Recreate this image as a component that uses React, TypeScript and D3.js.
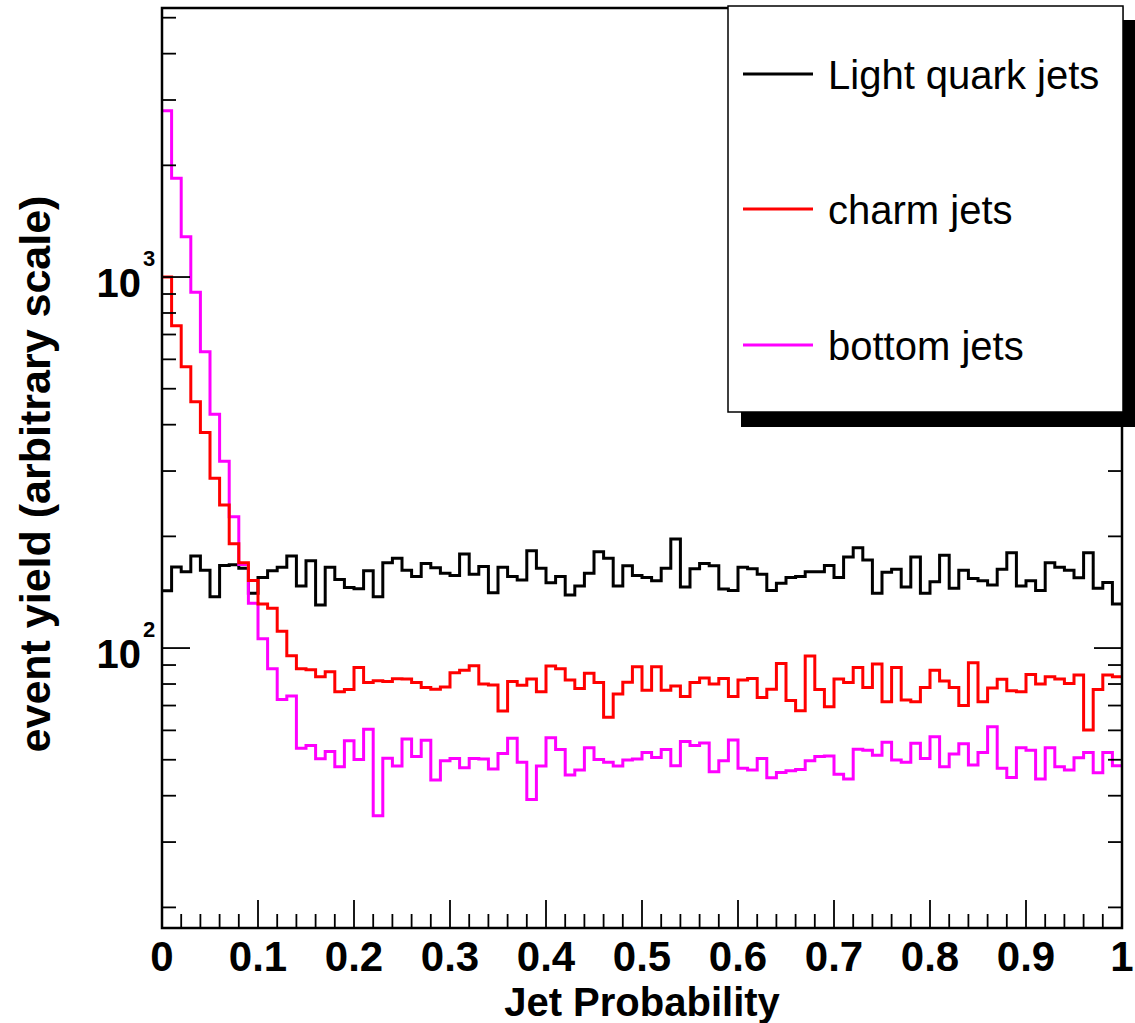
import React from 'react';
import * as d3 from 'd3';

// bin contents, 100 bins of width 0.01 in Jet Probability
const lightJets = [
  142.7, 165.5, 160.6, 177, 162, 137.6, 167, 167.7, 164, 140.5,
  155, 161.7, 165, 177, 147, 172, 130.6, 165, 153, 145.7,
  144.6, 161.7, 137.6, 169.8, 174.5, 162, 156, 169, 164.6, 159,
  157, 179.3, 158, 165.8, 141, 165, 156, 152.5, 183, 164,
  150, 156, 139, 147, 159, 181.8, 174.5, 147, 166.7, 157,
  155, 151.9, 164, 196.8, 146, 163.5, 169, 166.7, 144.2, 143,
  165, 163.5, 158, 143, 149.4, 155, 156, 160.6, 160.6, 167,
  155, 176, 186.3, 172.7, 140.5, 160, 163, 146, 176, 140.5,
  151, 178, 145, 162, 154, 151.9, 147.9, 163, 180.7, 147,
  151.9, 143, 169.8, 165, 162, 154.8, 180.7, 145, 150.3, 131.5,
];

const charmJets = [
  1000, 739, 573, 461, 381, 287, 243, 191, 169.8, 152,
  131.5, 128, 111, 95.4, 88, 87.4, 83.7, 86.3, 76.2, 77.3,
  88.6, 80.7, 81.7, 81.2, 82.7, 82.5, 80.7, 78.3, 77.5, 78.5,
  85.8, 87.2, 89.6, 80, 79.5, 67.7, 81.2, 79.4, 82.5, 76.2,
  89.4, 88, 82, 77.8, 85.5, 80.7, 65.1, 75.2, 80.9, 89,
  77, 89, 77, 79, 74, 80.7, 83, 80, 82.8, 74,
  82, 82.8, 73.6, 77.5, 90.9, 72.2, 67.8, 95.2, 77.3, 69.5,
  82.5, 80.7, 88.7, 78.3, 90.6, 71.7, 88.7, 72.4, 71.7, 78.3,
  87.2, 81.5, 78.3, 70, 91.3, 71.7, 78, 82.4, 76.7, 76.2,
  84.9, 80, 83.7, 82.5, 80.3, 84.6, 60.1, 77.3, 84.6, 83.7,
];

const bottomJets = [
  2807, 1845, 1284, 910, 629, 427, 319, 226, 168, 132,
  106, 88, 72.7, 74.3, 53.7, 54.6, 50.3, 52.6, 47.9, 56.3,
  50.1, 60.4, 35.3, 50.5, 48.1, 56.9, 51, 56.4, 44.1, 49.7,
  50.4, 47.6, 50.4, 50.2, 47.2, 52, 57.1, 49.2, 39.1, 48.1,
  57.3, 53.3, 45.5, 46.9, 53.9, 50.1, 49.2, 48.1, 49.9, 50.2,
  52.3, 50.7, 53.3, 48.2, 56, 54.6, 55.5, 46.4, 49.7, 56.5,
  47.4, 46.9, 50.4, 44.7, 46.2, 46.7, 47.1, 49.7, 51, 51.2,
  45.7, 44.4, 53.4, 53, 51.4, 55.7, 49.9, 49.2, 55.4, 50.4,
  57.7, 47.9, 51.8, 55.2, 48.4, 52.3, 61.4, 47.4, 44.8, 53.9,
  53, 44.4, 53.9, 47.9, 46.9, 50.6, 52.3, 46.1, 52.3, 48.2,
];

const seriesNames = ['Light quark jets', 'charm jets', 'bottom jets'];
const seriesColors = ['#000000', '#ff0000', '#ff00ff'];
const xRange = [0, 1];
const yRange = [17.6, 5310];

const W = 1135;
const H = 1023;
const frame = { left: 162, right: 1122, top: 8, bottom: 928 };
const font = '"Liberation Sans", Arial, Helvetica, sans-serif';

const x = d3.scaleLinear().domain(xRange).range([frame.left, frame.right]);
const y = d3.scaleLog().domain(yRange).range([frame.bottom, frame.top]);

// histogram outline as steps over the bin edges
function histPath(values: number[]) {
  const n = values.length;
  const pts: [number, number][] = [];
  values.forEach((v, i) => {
    const lo = xRange[0] + ((xRange[1] - xRange[0]) * i) / n;
    const hi = xRange[0] + ((xRange[1] - xRange[0]) * (i + 1)) / n;
    pts.push([x(lo), y(v)]);
    pts.push([x(hi), y(v)]);
  });
  return d3.line()(pts) as string;
}

export default function App() {
  const xMinor = x.ticks(50);
  const xMajor = x.ticks(10);
  const yTicks = y.ticks();
  const isMajor = (v: number) => Math.abs(Math.log10(v) - Math.round(Math.log10(v))) < 1e-6;
  const yMajor = yTicks.filter(isMajor);
  const fmt = d3.format('');

  const hists = [lightJets, bottomJets, charmJets];
  const histColors = [seriesColors[0], seriesColors[2], seriesColors[1]];

  const leg = { left: 728, top: 6, right: 1123, bottom: 412 };
  const legRows = [74, 209, 345];

  return (
    <div style={{ position: 'absolute', left: 0, top: 0 }}>
      <svg width={W} height={H} style={{ display: 'block', background: '#fff' }}>
        <rect x={0} y={0} width={W} height={H} fill="#fff" />

        {/* histograms */}
        <g fill="none" strokeWidth={3} strokeLinejoin="miter">
          {hists.map((h, i) => (
            <path key={i} d={histPath(h)} stroke={histColors[i]} />
          ))}
        </g>

        {/* frame */}
        <rect
          x={frame.left}
          y={frame.top}
          width={frame.right - frame.left}
          height={frame.bottom - frame.top}
          fill="none"
          stroke="#000"
          strokeWidth={2.5}
        />

        {/* x ticks */}
        <g stroke="#000" strokeWidth={1.8}>
          {xMinor.map((t, i) => {
            const major = xMajor.some((m) => Math.abs(m - t) < 1e-9);
            const len = major ? 28 : 14;
            return <line key={i} x1={x(t)} x2={x(t)} y1={frame.bottom} y2={frame.bottom - len} />;
          })}
        </g>
        <g fontFamily={font} fontWeight="bold" fontSize={42} textAnchor="middle">
          {xMajor.map((t, i) => (
            <text key={i} x={x(t)} y={971}>
              {fmt(t)}
            </text>
          ))}
        </g>
        <text
          x={(frame.left + frame.right) / 2}
          y={1016}
          fontFamily={font}
          fontWeight="bold"
          fontSize={40}
          textAnchor="middle"
        >
          Jet Probability
        </text>

        {/* y ticks, left and right */}
        <g stroke="#000" strokeWidth={1.8}>
          {yTicks.map((t, i) => {
            const len = isMajor(t) ? 28 : 14;
            return (
              <g key={i}>
                <line x1={frame.left} x2={frame.left + len} y1={y(t)} y2={y(t)} />
                <line x1={frame.right} x2={frame.right - len} y1={y(t)} y2={y(t)} />
              </g>
            );
          })}
        </g>
        <g fontFamily={font} fontWeight="bold">
          {yMajor.map((t, i) => (
            <g key={i}>
              <text x={141} y={y(t) + 20} fontSize={40} textAnchor="end">
                10
              </text>
              <text x={143} y={y(t) - 11} fontSize={22} textAnchor="start">
                {Math.round(Math.log10(t))}
              </text>
            </g>
          ))}
        </g>
        <text
          transform={`translate(50,${(frame.top + frame.bottom) / 2 + 6}) rotate(-90)`}
          fontFamily={font}
          fontWeight="bold"
          fontSize={43}
          textAnchor="middle"
        >
          event yield (arbitrary scale)
        </text>

        {/* legend */}
        <rect x={leg.left + 13} y={leg.top + 14} width={leg.right - leg.left} height={leg.bottom - leg.top + 1} fill="#000" />
        <rect
          x={leg.left}
          y={leg.top}
          width={leg.right - leg.left}
          height={leg.bottom - leg.top}
          fill="#fff"
          stroke="#000"
          strokeWidth={1.5}
        />
        {seriesNames.map((name, i) => (
          <g key={i}>
            <line x1={743} x2={813} y1={legRows[i]} y2={legRows[i]} stroke={seriesColors[i]} strokeWidth={3} />
            <text x={828} y={legRows[i] + 15} fontFamily={font} fontSize={40}>
              {name}
            </text>
          </g>
        ))}
      </svg>
    </div>
  );
}
